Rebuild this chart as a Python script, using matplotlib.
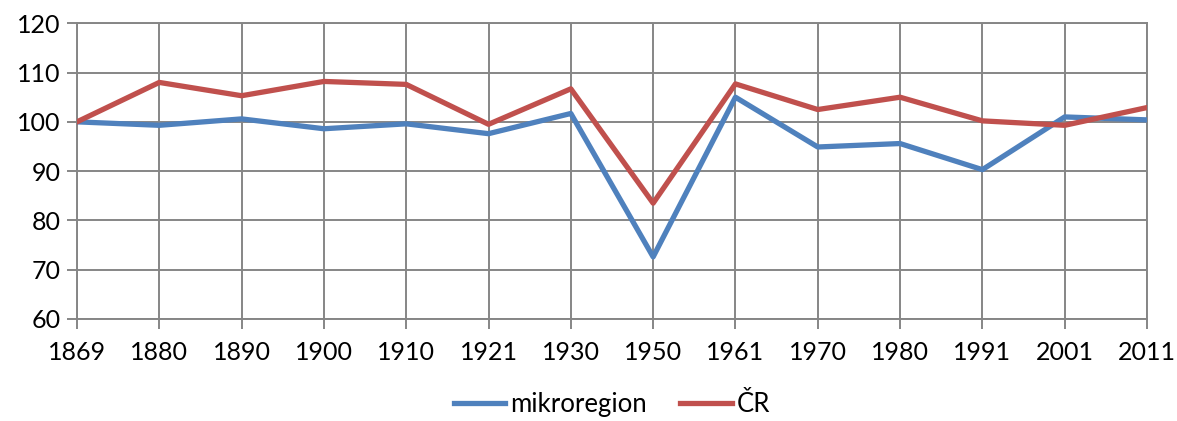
import matplotlib.pyplot as plt

years = ['1869', '1880', '1890', '1900', '1910', '1921', '1930',
         '1950', '1961', '1970', '1980', '1991', '2001', '2011']
mikroregion = [100.0, 99.3, 100.6, 98.6, 99.6, 97.6, 101.7,
               72.6, 105.0, 94.9, 95.6, 90.3, 101.0, 100.4]
cr = [100.0, 108.0, 105.3, 108.2, 107.6, 99.5, 106.7,
      83.5, 107.7, 102.5, 105.0, 100.2, 99.3, 102.9]

plt.rcParams['font.family'] = ['Lato', 'DejaVu Sans']
grid_col = '#868686'

fig = plt.figure(figsize=(11.77, 4.21), dpi=100)
ax = fig.add_axes([0.0654, 0.2423, 0.9091, 0.7024])

x = list(range(len(years)))
ax.plot(x, mikroregion, color='#4F81BD', lw=3.8, label='mikroregion', zorder=3)
ax.plot(x, cr, color='#C0504D', lw=3.8, label='ČR', zorder=3)

ax.set_xlim(0, len(years) - 1)
ax.set_ylim(60, 120)
ax.set_yticks(range(60, 121, 10))
ax.set_xticks(x)
ax.set_xticklabels(years)
ax.grid(True, color=grid_col, lw=1.4)
ax.set_axisbelow(True)
for s in ax.spines.values():
    s.set_color(grid_col)
    s.set_linewidth(1.4)
ax.tick_params(axis='both', colors=grid_col, length=7, width=1.4,
               labelsize=18, labelcolor='black')
ax.tick_params(axis='x', pad=9)
ax.tick_params(axis='y', pad=5)

fig.legend(loc='center', bbox_to_anchor=(0.52, 0.04), ncol=2, frameon=False,
           fontsize=18.5, handlelength=2.0, columnspacing=1.3, handletextpad=0.2,
           borderpad=0.1)

fig.savefig('out.png', dpi=100)
